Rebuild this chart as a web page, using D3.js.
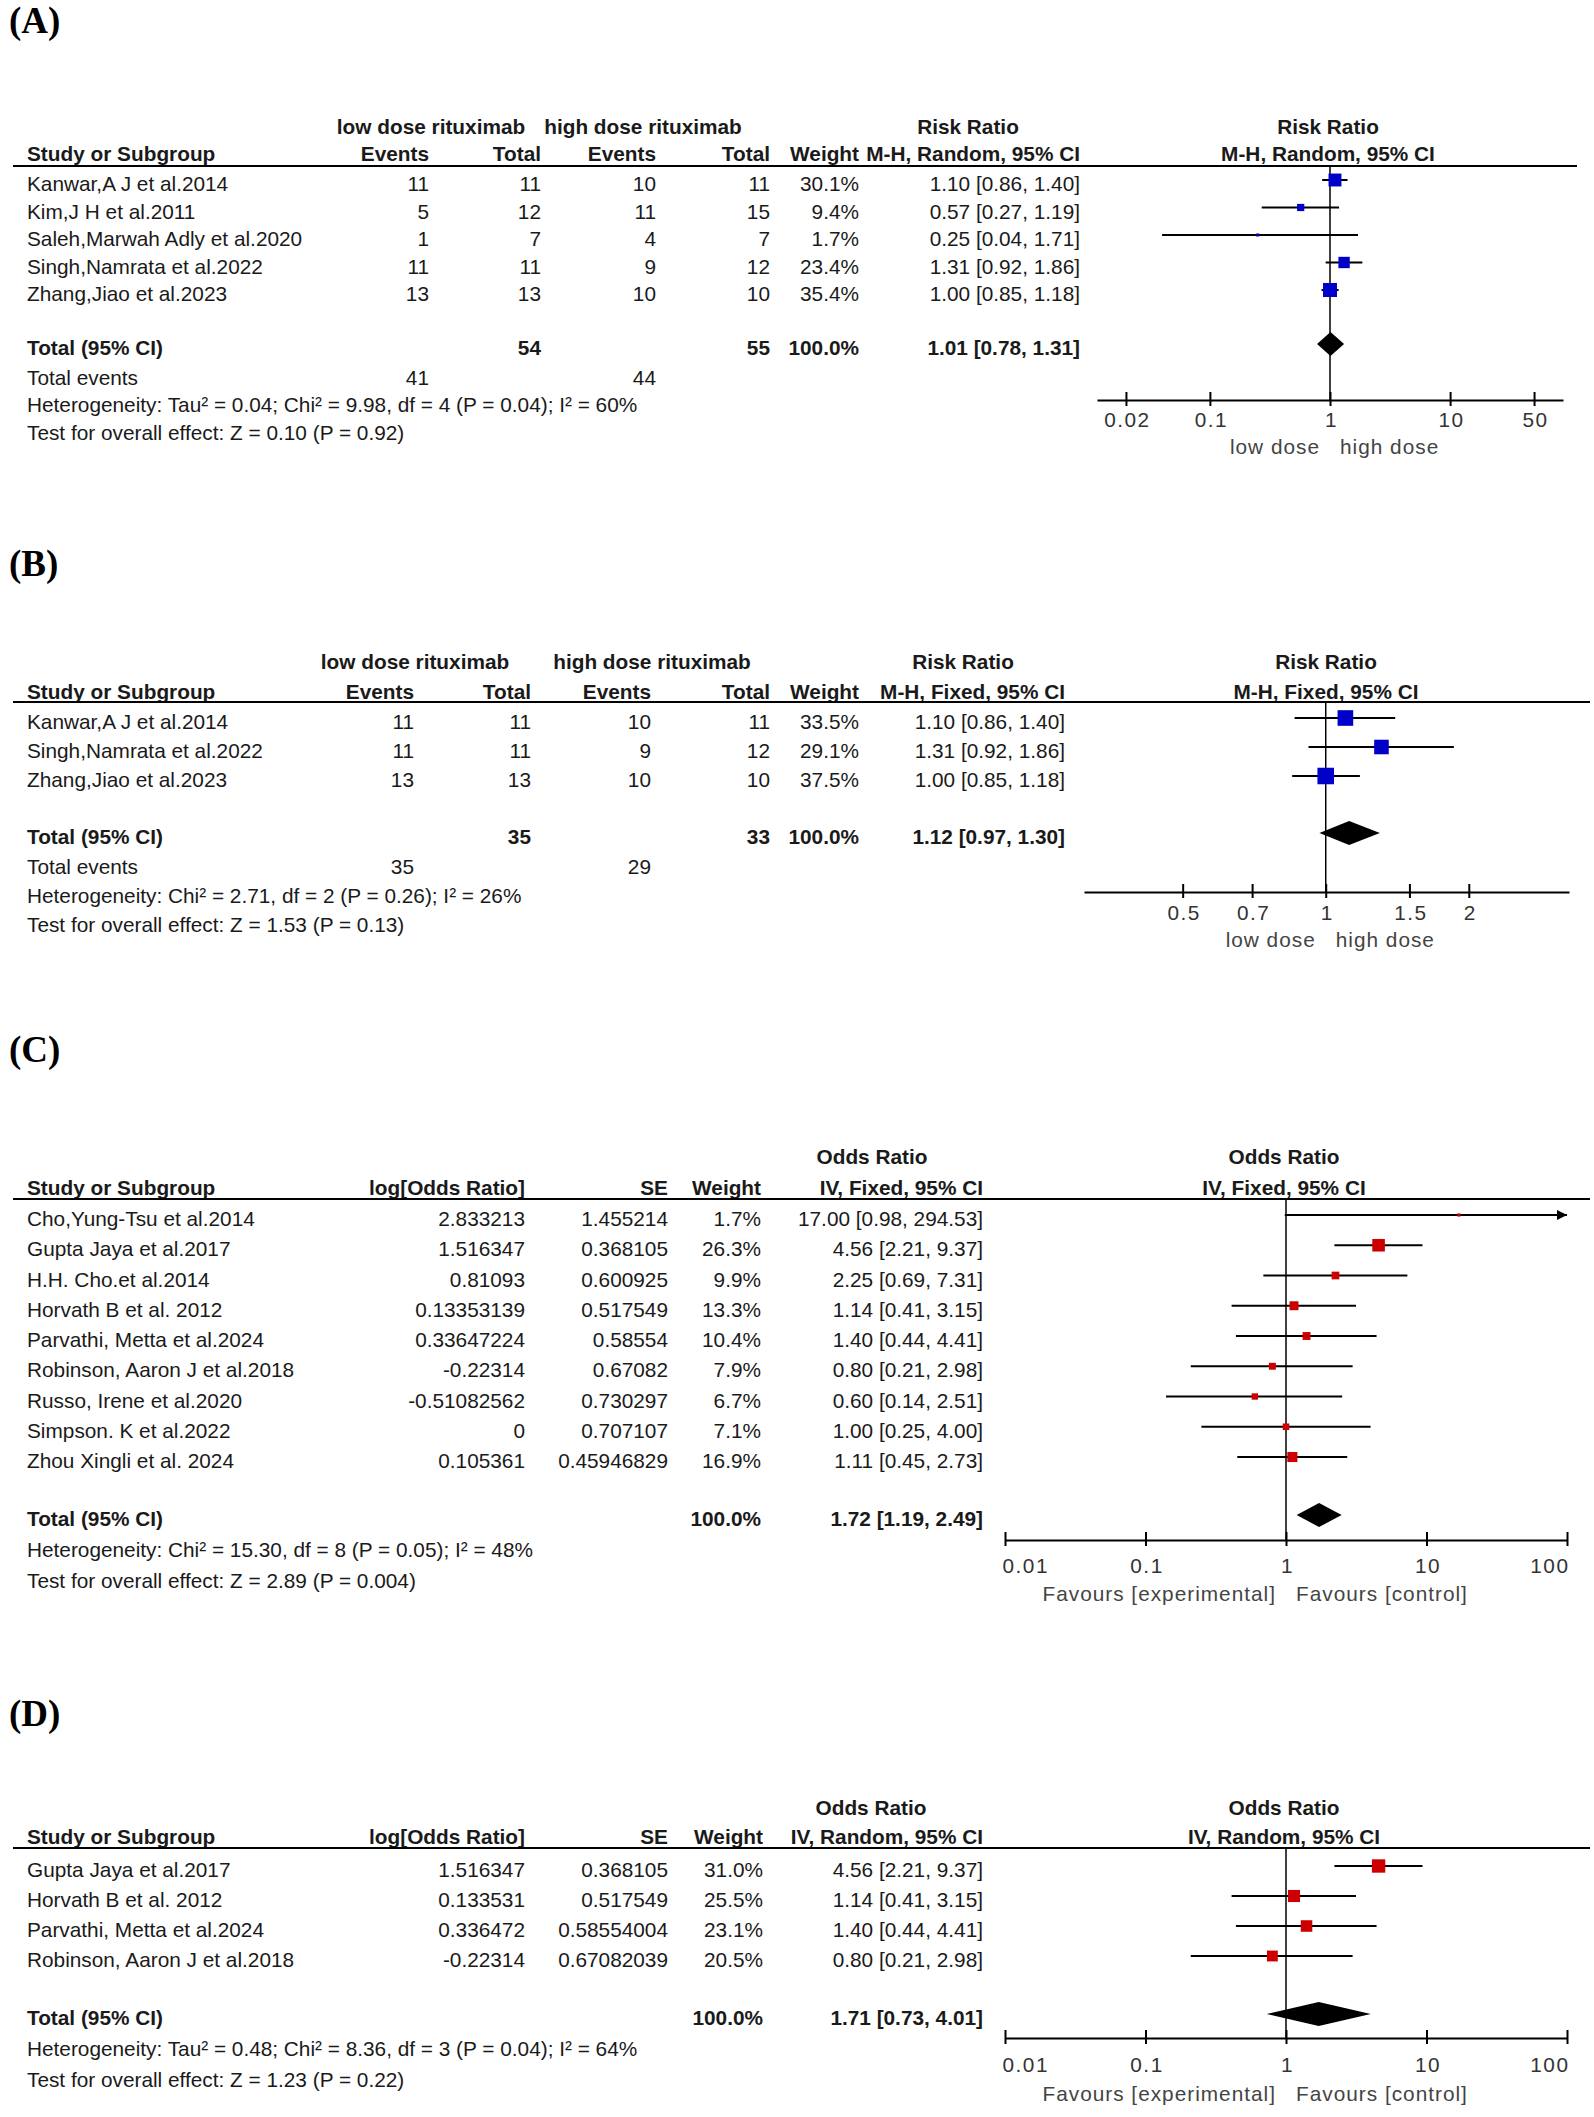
<!DOCTYPE html>
<html>
<head>
<meta charset="utf-8">
<script src="https://cdn.jsdelivr.net/npm/d3@7"></script>
<style>
  body { margin: 0; background: #fff; }
  text { font-family: 'Liberation Sans', Arial, sans-serif; font-size: 20.8px; fill: #1a1a1a; }
  text.tag { font-family: 'Liberation Serif', 'Times New Roman', serif; font-size: 37px; font-weight: bold; fill: #000; }
  text.bold { font-weight: bold; }
  .tick text { fill: #333; letter-spacing: 1.5px; }
  text.fav { fill: #444; letter-spacing: 1px; }
</style>
</head>
<body>
<script>
const width = 1594;
const height = 2117;

// (A) risk ratio, random effects
const studiesA = ['Kanwar,A J et al.2014', 'Kim,J H et al.2011', 'Saleh,Marwah Adly et al.2020', 'Singh,Namrata et al.2022', 'Zhang,Jiao et al.2023'];
const lowEventsA = [11, 5, 1, 11, 13];
const lowTotalA = [11, 12, 7, 11, 13];
const highEventsA = [10, 11, 4, 9, 10];
const highTotalA = [11, 15, 7, 12, 10];
const weightA = [30.1, 9.4, 1.7, 23.4, 35.4];
const estA = [1.10, 0.57, 0.25, 1.31, 1.00];
const lowerA = [0.86, 0.27, 0.04, 0.92, 0.85];
const upperA = [1.40, 1.19, 1.71, 1.86, 1.18];
const pooledA = [1.01, 0.78, 1.31];
const sumTotalsA = [54, 55];
const sumEventsA = [41, 44];
const ticksA = [0.02, 0.1, 1, 10, 50];

// (B) risk ratio, fixed effect
const studiesB = ['Kanwar,A J et al.2014', 'Singh,Namrata et al.2022', 'Zhang,Jiao et al.2023'];
const lowEventsB = [11, 11, 13];
const lowTotalB = [11, 11, 13];
const highEventsB = [10, 9, 10];
const highTotalB = [11, 12, 10];
const weightB = [33.5, 29.1, 37.5];
const estB = [1.10, 1.31, 1.00];
const lowerB = [0.86, 0.92, 0.85];
const upperB = [1.40, 1.86, 1.18];
const pooledB = [1.12, 0.97, 1.30];
const sumTotalsB = [35, 33];
const sumEventsB = [35, 29];
const ticksB = [0.5, 0.7, 1, 1.5, 2];

// (C) odds ratio, fixed effect
const studiesC = ['Cho,Yung-Tsu et al.2014', 'Gupta Jaya et al.2017', 'H.H. Cho.et al.2014', 'Horvath B et al. 2012', 'Parvathi, Metta et al.2024', 'Robinson, Aaron J et al.2018', 'Russo, Irene et al.2020', 'Simpson. K et al.2022', 'Zhou Xingli et al. 2024'];
const logOrC = ['2.833213', '1.516347', '0.81093', '0.13353139', '0.33647224', '-0.22314', '-0.51082562', '0', '0.105361'];
const seC = ['1.455214', '0.368105', '0.600925', '0.517549', '0.58554', '0.67082', '0.730297', '0.707107', '0.45946829'];
const weightC = [1.7, 26.3, 9.9, 13.3, 10.4, 7.9, 6.7, 7.1, 16.9];
const estC = [17.00, 4.56, 2.25, 1.14, 1.40, 0.80, 0.60, 1.00, 1.11];
const lowerC = [0.98, 2.21, 0.69, 0.41, 0.44, 0.21, 0.14, 0.25, 0.45];
const upperC = [294.53, 9.37, 7.31, 3.15, 4.41, 2.98, 2.51, 4.00, 2.73];
const pooledC = [1.72, 1.19, 2.49];
const ticksC = [0.01, 0.1, 1, 10, 100];

// (D) odds ratio, random effects
const studiesD = ['Gupta Jaya et al.2017', 'Horvath B et al. 2012', 'Parvathi, Metta et al.2024', 'Robinson, Aaron J et al.2018'];
const logOrD = ['1.516347', '0.133531', '0.336472', '-0.22314'];
const seD = ['0.368105', '0.517549', '0.58554004', '0.67082039'];
const weightD = [31.0, 25.5, 23.1, 20.5];
const estD = [4.56, 1.14, 1.40, 0.80];
const lowerD = [2.21, 0.41, 0.44, 0.21];
const upperD = [9.37, 3.15, 4.41, 2.98];
const pooledD = [1.71, 0.73, 4.01];
const ticksD = [0.01, 0.1, 1, 10, 100];

const fmt2 = d3.format('.2f');
const pct = d => `${d3.format('.1f')(d)}%`;
const ciText = (e, l, u) => `${fmt2(e)} [${fmt2(l)}, ${fmt2(u)}]`;

const svg = d3.select('body').append('svg')
  .attr('width', width)
  .attr('height', height);

function label(g, t, x, y, anchor, cls) {
  return g.append('text')
    .attr('x', x)
    .attr('y', y)
    .attr('text-anchor', anchor)
    .attr('class', cls || null)
    .text(t);
}

function drawPanel(p) {
  const g = svg.append('g');
  g.append('text').attr('class', 'tag').attr('x', 9).attr('y', p.tagY).text(p.tag);

  p.head1.forEach(([t, x]) => label(g, t, x, p.head1Y, 'middle', 'bold'));
  p.head2.forEach(([t, x, a]) => label(g, t, x, p.head2Y, a || 'end', 'bold'));
  g.append('line')
    .attr('x1', 13).attr('x2', p.lineEnd)
    .attr('y1', p.lineY).attr('y2', p.lineY)
    .attr('stroke', '#000').attr('stroke-width', 2);

  const y = d3.scalePoint().domain(p.names).range(p.rowRange);
  p.names.forEach((n, i) => {
    const ty = y(n) + 7;
    label(g, n, 27, ty, 'start');
    p.cols.forEach(([vals, x]) => label(g, vals[i], x, ty, 'end'));
    label(g, ciText(p.est[i], p.lo[i], p.hi[i]), p.ciX, ty, 'end');
  });

  label(g, 'Total (95% CI)', 27, p.totalY + 7, 'start', 'bold');
  p.totalCells.forEach(([t, x]) => label(g, t, x, p.totalY + 7, 'end', 'bold'));
  label(g, ciText(...p.pooled), p.ciX, p.totalY + 7, 'end', 'bold');
  if (p.eventCells) {
    label(g, 'Total events', 27, p.eventsY + 7, 'start');
    p.eventCells.forEach(([t, x]) => label(g, t, x, p.eventsY + 7, 'end'));
  }
  p.notes.forEach(([t, ny]) => label(g, t, 27, ny, 'start'));

  // forest plot
  const x = d3.scaleLog().domain(p.domain).range(p.range);
  const box = d3.scaleSqrt().domain([0, 100]).range([0, p.maxBox]);
  const [xmin, xmax] = p.domain;
  const idx = d3.range(p.names.length);

  g.append('line')
    .attr('x1', x(1)).attr('x2', x(1))
    .attr('y1', p.lineY).attr('y2', p.axisY)
    .attr('stroke', '#000').attr('stroke-width', 1.5);

  g.selectAll('line.ci')
    .data(idx)
    .join('line')
    .attr('class', 'ci')
    .attr('x1', i => x(Math.max(p.lo[i], xmin)))
    .attr('x2', i => x(Math.min(p.hi[i], xmax)))
    .attr('y1', i => y(p.names[i]) - 4)
    .attr('y2', i => y(p.names[i]) - 4)
    .attr('stroke', '#000')
    .attr('stroke-width', 2);

  g.selectAll('path.arrow')
    .data(idx.filter(i => p.hi[i] > xmax))
    .join('path')
    .attr('class', 'arrow')
    .attr('d', (i) => {
      const ax = x(xmax);
      const ay = y(p.names[i]) - 4;
      return `M${ax},${ay}L${ax - 10},${ay - 5}L${ax - 10},${ay + 5}Z`;
    })
    .attr('fill', '#000');

  g.selectAll('rect.box')
    .data(idx)
    .join('rect')
    .attr('class', 'box')
    .attr('x', i => x(p.est[i]) - box(p.w[i]) / 2)
    .attr('y', i => y(p.names[i]) - 4 - box(p.w[i]) / 2)
    .attr('width', i => box(p.w[i]))
    .attr('height', i => box(p.w[i]))
    .attr('fill', p.color);

  const [pe, pl, ph] = p.pooled;
  const dy = p.totalY - 4;
  g.append('path')
    .attr('d', `M${x(pl)},${dy}L${x(pe)},${dy - 12}L${x(ph)},${dy}L${x(pe)},${dy + 12}Z`)
    .attr('fill', '#000');

  const axis = d3.axisBottom(x).tickValues(p.ticks).tickFormat(d => d).tickSizeOuter(0);
  const ag = g.append('g')
    .attr('transform', `translate(0, ${p.axisY})`)
    .call(axis);
  ag.select('.domain').attr('stroke', '#000').attr('stroke-width', 2);
  ag.selectAll('.tick line').attr('y1', -8).attr('y2', 6).attr('stroke', '#000').attr('stroke-width', 2);
  ag.selectAll('.tick text')
    .attr('y', p.tickLabelY - p.axisY)
    .attr('dy', null)
    .attr('text-anchor', (d) => {
      if (d === xmin) return 'start';
      if (d === xmax) return 'end';
      return 'middle';
    })
    .attr('x', (d) => {
      if (d === xmin) return -3;
      if (d === xmax) return 2;
      return 1;
    });

  label(g, p.favours[0], x(1) - 10, p.favY, 'end', 'fav');
  label(g, p.favours[1], x(1) + 10, p.favY, 'start', 'fav');
}

drawPanel({
  tag: '(A)', tagY: 33,
  head1Y: 134,
  head1: [['low dose rituximab', 431], ['high dose rituximab', 643], ['Risk Ratio', 968], ['Risk Ratio', 1328]],
  head2Y: 161,
  head2: [['Study or Subgroup', 27, 'start'], ['Events', 429], ['Total', 541], ['Events', 656], ['Total', 770], ['Weight', 859], ['M-H, Random, 95% CI', 1080], ['M-H, Random, 95% CI', 1328, 'middle']],
  lineY: 166, lineEnd: 1577,
  names: studiesA, rowRange: [184, 294],
  cols: [[lowEventsA, 429], [lowTotalA, 541], [highEventsA, 656], [highTotalA, 770], [weightA.map(pct), 859]],
  est: estA, lo: lowerA, hi: upperA, w: weightA, ciX: 1080,
  totalY: 348,
  totalCells: [[sumTotalsA[0], 541], [sumTotalsA[1], 770], ['100.0%', 859]],
  pooled: pooledA,
  eventsY: 378, eventCells: [[sumEventsA[0], 429], [sumEventsA[1], 656]],
  notes: [['Heterogeneity: Tau² = 0.04; Chi² = 9.98, df = 4 (P = 0.04); I² = 60%', 412], ['Test for overall effect: Z = 0.10 (P = 0.92)', 440]],
  domain: [Math.pow(10, -1.94), Math.pow(10, 1.94)], range: [1097, 1563],
  maxBox: 23.5, color: '#0000c8',
  ticks: ticksA, axisY: 400, tickLabelY: 427,
  favours: ['low dose', 'high dose'], favY: 454
});

drawPanel({
  tag: '(B)', tagY: 576,
  head1Y: 669,
  head1: [['low dose rituximab', 415], ['high dose rituximab', 652], ['Risk Ratio', 963], ['Risk Ratio', 1326]],
  head2Y: 699,
  head2: [['Study or Subgroup', 27, 'start'], ['Events', 414], ['Total', 531], ['Events', 651], ['Total', 770], ['Weight', 859], ['M-H, Fixed, 95% CI', 1065], ['M-H, Fixed, 95% CI', 1326, 'middle']],
  lineY: 702, lineEnd: 1590,
  names: studiesB, rowRange: [722, 780],
  cols: [[lowEventsB, 414], [lowTotalB, 531], [highEventsB, 651], [highTotalB, 770], [weightB.map(pct), 859]],
  est: estB, lo: lowerB, hi: upperB, w: weightB, ciX: 1065,
  totalY: 837,
  totalCells: [[sumTotalsB[0], 531], [sumTotalsB[1], 770], ['100.0%', 859]],
  pooled: pooledB,
  eventsY: 867, eventCells: [[sumEventsB[0], 414], [sumEventsB[1], 651]],
  notes: [['Heterogeneity: Chi² = 2.71, df = 2 (P = 0.26); I² = 26%', 903], ['Test for overall effect: Z = 1.53 (P = 0.13)', 932]],
  domain: [0.31, 3.25], range: [1084, 1569],
  maxBox: 27, color: '#0000c8',
  ticks: ticksB, axisY: 892, tickLabelY: 920,
  favours: ['low dose', 'high dose'], favY: 947
});

drawPanel({
  tag: '(C)', tagY: 1062,
  head1Y: 1164,
  head1: [['Odds Ratio', 872], ['Odds Ratio', 1284]],
  head2Y: 1195,
  head2: [['Study or Subgroup', 27, 'start'], ['log[Odds Ratio]', 525], ['SE', 668], ['Weight', 761], ['IV, Fixed, 95% CI', 983], ['IV, Fixed, 95% CI', 1284, 'middle']],
  lineY: 1199, lineEnd: 1590,
  names: studiesC, rowRange: [1219, 1461],
  cols: [[logOrC, 525], [seC, 668], [weightC.map(pct), 761]],
  est: estC, lo: lowerC, hi: upperC, w: weightC, ciX: 983,
  totalY: 1519,
  totalCells: [['100.0%', 761]],
  pooled: pooledC,
  notes: [['Heterogeneity: Chi² = 15.30, df = 8 (P = 0.05); I² = 48%', 1557], ['Test for overall effect: Z = 2.89 (P = 0.004)', 1588]],
  domain: [0.01, 100], range: [1005, 1567],
  maxBox: 24.5, color: '#cc0000',
  ticks: ticksC, axisY: 1540, tickLabelY: 1573,
  favours: ['Favours [experimental]', 'Favours [control]'], favY: 1601
});

drawPanel({
  tag: '(D)', tagY: 1726,
  head1Y: 1815,
  head1: [['Odds Ratio', 871], ['Odds Ratio', 1284]],
  head2Y: 1844,
  head2: [['Study or Subgroup', 27, 'start'], ['log[Odds Ratio]', 525], ['SE', 668], ['Weight', 763], ['IV, Random, 95% CI', 983], ['IV, Random, 95% CI', 1284, 'middle']],
  lineY: 1848, lineEnd: 1590,
  names: studiesD, rowRange: [1870, 1960],
  cols: [[logOrD, 525], [seD, 668], [weightD.map(pct), 763]],
  est: estD, lo: lowerD, hi: upperD, w: weightD, ciX: 983,
  totalY: 2018,
  totalCells: [['100.0%', 763]],
  pooled: pooledD,
  notes: [['Heterogeneity: Tau² = 0.48; Chi² = 8.36, df = 3 (P = 0.04); I² = 64%', 2056], ['Test for overall effect: Z = 1.23 (P = 0.22)', 2087]],
  domain: [0.01, 100], range: [1005, 1567],
  maxBox: 24, color: '#cc0000',
  ticks: ticksD, axisY: 2038, tickLabelY: 2072,
  favours: ['Favours [experimental]', 'Favours [control]'], favY: 2101
});
</script>
</body>
</html>
